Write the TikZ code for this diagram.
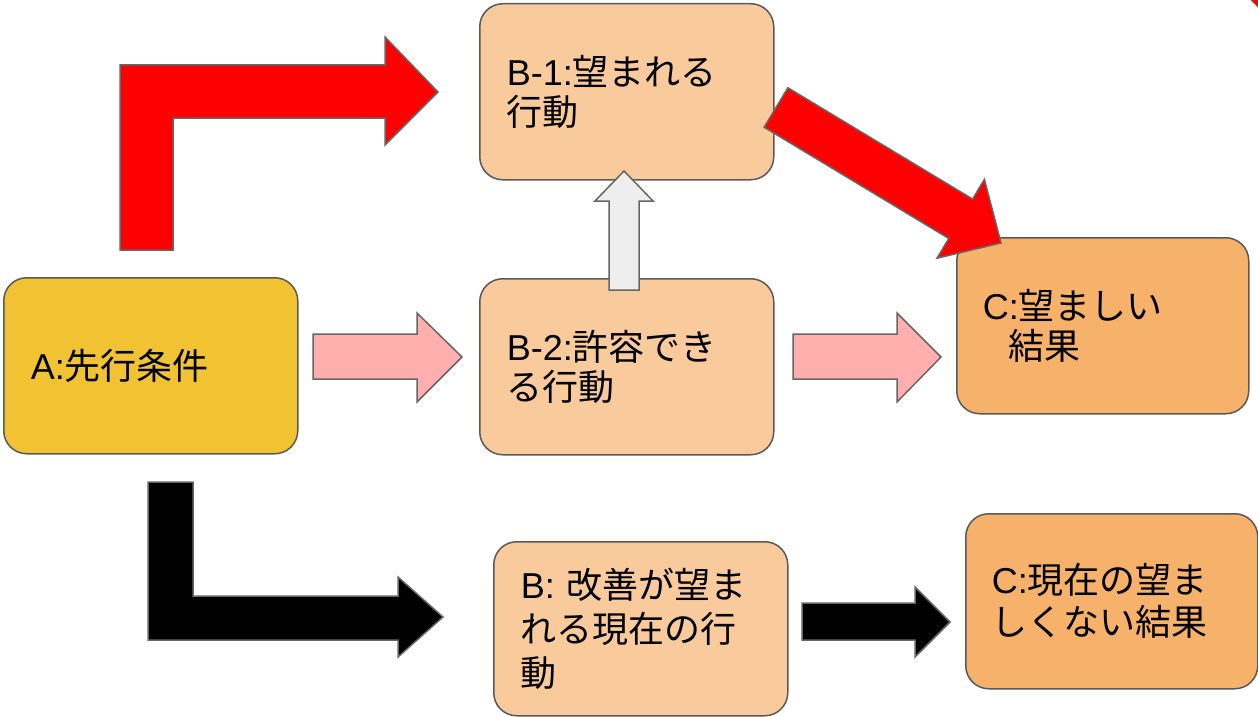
\documentclass[tikz,border=0pt]{standalone}
\usepackage{fontspec}
\setmainfont{Liberation Sans}
\newfontfamily\jp{Noto Sans CJK JP}
\definecolor{bordergray}{HTML}{595959}
\definecolor{edgegray}{HTML}{666666}
\definecolor{gold}{HTML}{F1C232}
\definecolor{peach}{HTML}{F9CB9C}
\definecolor{orangeC}{HTML}{F6B26B}
\definecolor{pinkA}{HTML}{FFB0AE}
\definecolor{lightgray}{HTML}{EEEEEE}
\definecolor{redA}{HTML}{FF0000}
\tikzset{
  box/.style={draw=bordergray, line width=1.5pt, rounded corners=23pt,
    minimum width=294pt, minimum height=176pt, anchor=north west,
    text width=240pt, align=left, inner sep=0pt,
    font=\fontsize{36}{40}\selectfont},
  blockarrow/.style={draw=edgegray, line width=1.5pt, line join=miter}
}
\begin{document}
\begin{tikzpicture}[x=1pt,y=-1pt]
\useasboundingbox (0,0) rectangle (1258,717);
% boxes
\node[box, fill=gold] (A) at (3,277) {A:{\jp 先行条件}};
\node[box, fill=peach] (B1) at (479,3) {B-1:{\jp 望まれる}\\{\jp 行動}};
\node[box, fill=peach] (B2) at (479,278) {B-2:{\jp 許容でき}\\{\jp る行動}};
\node[box, fill=orangeC, minimum width=292pt] (C) at (956,237) {C:{\jp 望ましい}\\\hspace*{26pt}{\jp 結果}};
\node[box, fill=peach, minimum height=174pt, font=\fontsize{36}{44}\selectfont] (Bb) at (493,541) {B: {\jp 改善が望ま}\\{\jp れる現在の行}\\{\jp 動}};
\node[box, fill=orangeC, minimum width=292pt, minimum height=175pt, font=\fontsize{36}{42}\selectfont] (Cb) at (965,513) {C:{\jp 現在の望ま}\\{\jp しくない結果}};
% red bent arrow A -> B1
\draw[blockarrow, fill=redA] (120,250) -- (120,65) -- (385,65) -- (385,37) -- (438,92) -- (385,145) -- (385,118) -- (173,118) -- (173,250) -- cycle;
% red diagonal arrow B1 -> C
\draw[blockarrow, fill=redA] (764.1,127.2) -- (787.9,87.8) -- (972.6,199.1) -- (984.4,179.4) -- (1001,243) -- (937,258.2) -- (948.8,238.5) -- cycle;
% pink arrows
\draw[blockarrow, fill=pinkA] (313,334) -- (417,334) -- (417,313) -- (462,357) -- (417,402) -- (417,379) -- (313,379) -- cycle;
\draw[blockarrow, fill=pinkA] (793,334) -- (897,334) -- (897,313) -- (941,357) -- (897,402) -- (897,379) -- (793,379) -- cycle;
% gray up arrow B2 -> B1
\draw[blockarrow, fill=lightgray] (609,290) -- (609,201) -- (595,201) -- (624,171) -- (653,201) -- (639,201) -- (639,290) -- cycle;
% black bent arrow A -> Bb
\draw[blockarrow, fill=black] (148,482) -- (193,482) -- (193,596) -- (398,596) -- (398,577) -- (443,617) -- (398,657) -- (398,640) -- (148,640) -- cycle;
% black arrow Bb -> Cb
\draw[blockarrow, fill=black] (802,603) -- (915,603) -- (915,587) -- (950,622) -- (915,657) -- (915,640) -- (802,640) -- cycle;
% corner mark
\fill[redA] (1251,0) -- (1258,0) -- (1258,7) -- cycle;
\draw[edgegray, line width=1pt] (1251,0) -- (1258,7);
\end{tikzpicture}
\end{document}
